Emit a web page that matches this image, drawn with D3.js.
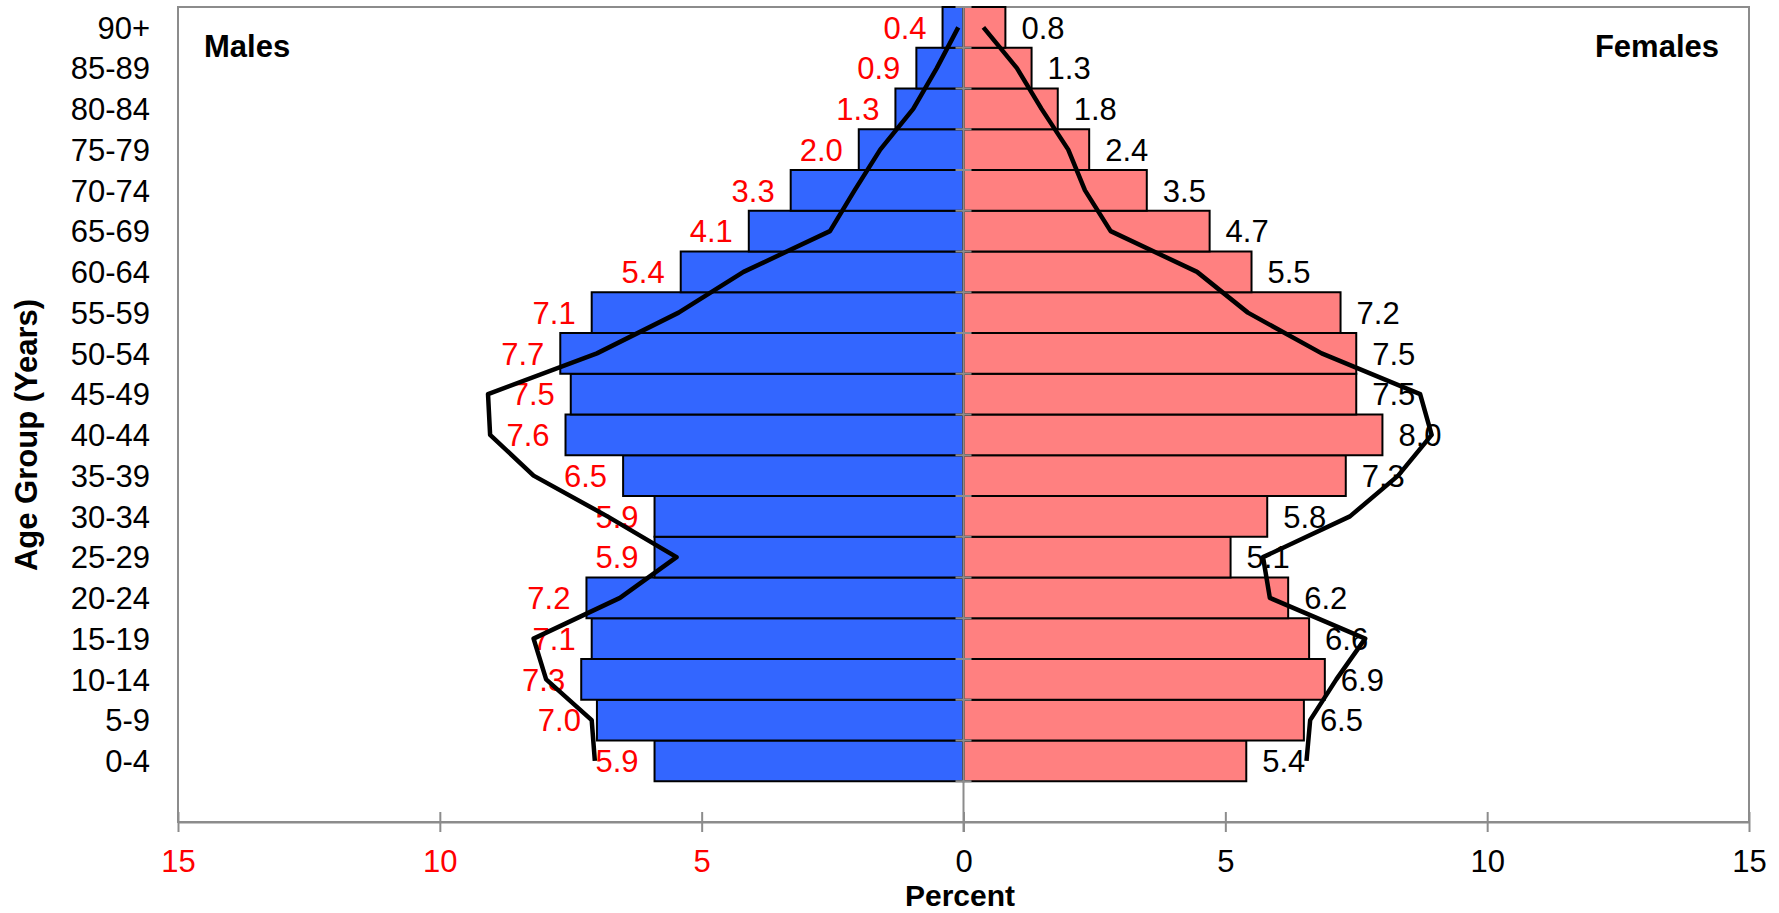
<!DOCTYPE html>
<html>
<head>
<meta charset="utf-8">
<script src="https://cdn.jsdelivr.net/npm/d3@7"></script>
<style>
  html, body { margin: 0; padding: 0; background: #ffffff; }
  svg { display: block; font-family: "Liberation Sans", Arial, sans-serif; }
</style>
</head>
<body>
<svg id="chart" width="1779" height="913"></svg>
<script>
// Age groups, bottom (youngest) to top (oldest)
const ageGroups = ["0-4","5-9","10-14","15-19","20-24","25-29","30-34","35-39","40-44","45-49",
                   "50-54","55-59","60-64","65-69","70-74","75-79","80-84","85-89","90+"];
// Bar values (percent)
const malePct   = [5.9, 7.0, 7.3, 7.1, 7.2, 5.9, 5.9, 6.5, 7.6, 7.5, 7.7, 7.1, 5.4, 4.1, 3.3, 2.0, 1.3, 0.9, 0.4];
const femalePct = [5.4, 6.5, 6.9, 6.6, 6.2, 5.1, 5.8, 7.3, 8.0, 7.5, 7.5, 7.2, 5.5, 4.7, 3.5, 2.4, 1.8, 1.3, 0.8];
// Comparison profile (black lines)
const maleLine   = [7.04, 7.1, 7.97, 8.21, 6.56, 5.48, 6.8, 8.21, 9.04, 9.08, 7.0, 5.44, 4.2, 2.55, 2.08, 1.59, 0.96, 0.51, 0.1];
const femaleLine = [6.55, 6.62, 7.12, 7.67, 5.85, 5.72, 7.38, 8.3, 8.94, 8.72, 6.84, 5.43, 4.46, 2.81, 2.32, 2.0, 1.49, 1.02, 0.38];
// Axis ticks
const xTicks = [-15, -10, -5, 0, 5, 10, 15];

const svg = d3.select("#chart");
const plot = { left: 178, right: 1749, top: 7, bottom: 822 };
const slot = (plot.bottom - plot.top) / (ageGroups.length + 1);
const fontSize = 31;

const x = d3.scaleLinear().domain([-15, 15]).range([plot.left, plot.right]);
const y = d3.scaleBand()
  .domain(ageGroups.slice().reverse())
  .range([plot.top, plot.top + slot * ageGroups.length])
  .padding(0);

const males = ageGroups.map((g, i) => ({ g, v: malePct[i], l: maleLine[i] }));
const females = ageGroups.map((g, i) => ({ g, v: femalePct[i], l: femaleLine[i] }));

// Plot frame
svg.append("rect")
  .attr("x", plot.left).attr("y", plot.top)
  .attr("width", plot.right - plot.left).attr("height", plot.bottom - plot.top)
  .attr("fill", "none").attr("stroke", "#8c8c8c").attr("stroke-width", 2);

// Bars
svg.append("g").selectAll("rect").data(males).join("rect")
  .attr("x", d => x(-d.v)).attr("y", d => y(d.g))
  .attr("width", d => x(0) - x(-d.v)).attr("height", y.bandwidth())
  .attr("fill", "#3366FF").attr("stroke", "#000").attr("stroke-width", 2);
svg.append("g").selectAll("rect").data(females).join("rect")
  .attr("x", x(0)).attr("y", d => y(d.g))
  .attr("width", d => x(d.v) - x(0)).attr("height", y.bandwidth())
  .attr("fill", "#FF8080").attr("stroke", "#000").attr("stroke-width", 2);

// Vertical zero axis with small ticks at band boundaries
svg.append("line")
  .attr("x1", x(0)).attr("x2", x(0))
  .attr("y1", plot.top).attr("y2", plot.bottom + 10)
  .attr("stroke", "#8c8c8c").attr("stroke-width", 2);
svg.append("g").selectAll("line").data(ageGroups.concat(["__end"])).join("line")
  .attr("x1", x(0) - 8).attr("x2", x(0) + 8)
  .attr("y1", d => d === "__end" ? y.range()[1] : y(d))
  .attr("y2", d => d === "__end" ? y.range()[1] : y(d))
  .attr("stroke", "#8c8c8c").attr("stroke-width", 2);

// Data labels
svg.append("g").selectAll("text").data(males).join("text")
  .attr("x", d => x(-d.v) - 16).attr("y", d => y(d.g) + y.bandwidth() / 2)
  .attr("dy", "0.36em").attr("text-anchor", "end")
  .attr("font-size", fontSize).attr("fill", "#FF0000")
  .text(d => d.v.toFixed(1));
svg.append("g").selectAll("text").data(females).join("text")
  .attr("x", d => x(d.v) + 16).attr("y", d => y(d.g) + y.bandwidth() / 2)
  .attr("dy", "0.36em").attr("text-anchor", "start")
  .attr("font-size", fontSize).attr("fill", "#000")
  .text(d => d.v.toFixed(1));

// Comparison lines
const cy = d => y(d.g) + y.bandwidth() / 2;
svg.append("path").datum(males)
  .attr("d", d3.line().x(d => x(-d.l)).y(cy))
  .attr("fill", "none").attr("stroke", "#000").attr("stroke-width", 4.5)
  .attr("stroke-linejoin", "round");
svg.append("path").datum(females)
  .attr("d", d3.line().x(d => x(d.l)).y(cy))
  .attr("fill", "none").attr("stroke", "#000").attr("stroke-width", 4.5)
  .attr("stroke-linejoin", "round");

// Bottom axis
const xAxis = svg.append("g")
  .attr("transform", `translate(0,${plot.bottom})`)
  .call(d3.axisBottom(x).tickValues(xTicks).tickFormat(d => Math.abs(d)).tickSizeOuter(0));
xAxis.select(".domain").attr("stroke", "#8c8c8c").attr("stroke-width", 2);
xAxis.selectAll(".tick line").attr("y1", -10).attr("y2", 10)
  .attr("stroke", "#8c8c8c").attr("stroke-width", 2);
xAxis.selectAll(".tick text")
  .attr("y", 50).attr("dy", 0)
  .attr("font-size", fontSize).attr("font-family", "Liberation Sans, Arial, sans-serif")
  .attr("fill", d => d < 0 ? "#FF0000" : "#000");

// Category axis (labels only)
const yAxis = svg.append("g")
  .attr("transform", `translate(${plot.left},0)`)
  .call(d3.axisLeft(y).tickSize(0).tickPadding(28));
yAxis.select(".domain").remove();
yAxis.selectAll(".tick text")
  .attr("dy", "0.36em")
  .attr("font-size", fontSize).attr("font-family", "Liberation Sans, Arial, sans-serif")
  .attr("fill", "#000");

// Titles
svg.append("text").attr("x", 204).attr("y", 57)
  .attr("font-size", 31).attr("font-weight", "bold").text("Males");
svg.append("text").attr("x", 1719).attr("y", 57).attr("text-anchor", "end")
  .attr("font-size", 31).attr("font-weight", "bold").text("Females");
svg.append("text").attr("x", 960).attr("y", 906).attr("text-anchor", "middle")
  .attr("font-size", 30).attr("font-weight", "bold").text("Percent");
svg.append("text")
  .attr("transform", "translate(36.5,435) rotate(-90)")
  .attr("text-anchor", "middle")
  .attr("font-size", 31).attr("font-weight", "bold").text("Age Group (Years)");
</script>
</body>
</html>
